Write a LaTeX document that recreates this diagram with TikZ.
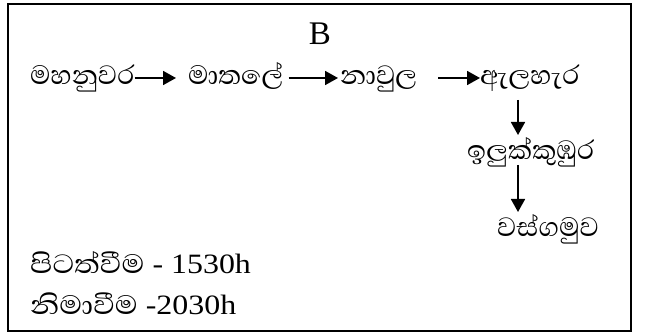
\documentclass[tikz,border=0pt]{standalone}
\usepackage{fontspec}
\setmainfont{Liberation Serif}
\newfontfamily\si[Script=Sinhala]{Abhaya Libre}
\newfontfamily\sib[Script=Sinhala,FakeStretch=1.12]{Abhaya Libre}
\newfontfamily\latb[FakeStretch=1.14]{Liberation Serif}
\usetikzlibrary{arrows.meta}
\tikzset{
  place/.style={inner sep=0pt, anchor=base west, font=\si\fontsize{34}{34}\selectfont},
  note/.style={inner sep=0pt, anchor=base west, font=\latb\fontsize{28}{28}\selectfont},
  arr/.style={line width=1.8pt, -{Triangle[width=14pt,length=13pt]}},
  frame/.style={line width=2pt}
}
\begin{document}
\begin{tikzpicture}[x=1pt,y=-1pt]
\useasboundingbox (0,0) rectangle (646,336);
\draw[frame] (7.5,4) rectangle (631,331);
\node[inner sep=0pt, anchor=base, font=\fontsize{33}{33}\selectfont] (b) at (320,45) {B};
\node[place] (n1) at (30,85) {මහනුවර};
\node[place] (n2) at (188,85) {මාතලේ};
\node[place] (n3) at (340,85) {නාවුල};
\node[place] (n4) at (480,85) {ඇලහැර};
\node[place] (n5) at (467,160) {ඉලුක්කුඹුර};
\node[place] (n6) at (497,237) {වස්ගමුව};
\node[note] (t1) at (30,274) {{\sib\fontsize{34}{34}\selectfont පිටත්වීම} - 1530h};
\node[note] (t2) at (30,315) {{\sib\fontsize{34}{34}\selectfont නිමාවීම} -2030h};
\coordinate (v) at (518,0);
\draw[arr] ([yshift=7pt]n1.base east) -- ([yshift=7pt,xshift=-12pt]n2.base west);
\draw[arr] ([yshift=7pt,xshift=5pt]n2.base east) -- ([yshift=7pt,xshift=-2pt]n3.base west);
\draw[arr] ([yshift=7pt,xshift=21pt]n3.base east) -- ([yshift=7pt]n4.base west);
\draw[arr] ([yshift=-15pt]n4.base -| v) -- ([yshift=25pt]n5.base -| v);
\draw[arr] ([yshift=-5pt]n5.base -| v) -- ([yshift=25pt]n6.base -| v);
\end{tikzpicture}
\end{document}
